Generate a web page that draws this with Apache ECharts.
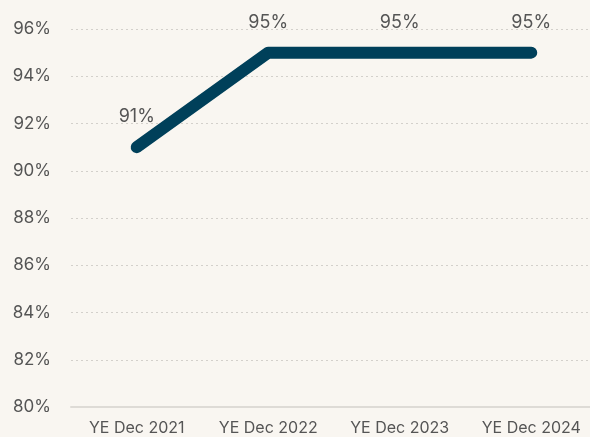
<!DOCTYPE html>
<html>
<head>
<meta charset="utf-8">
<script src="https://cdn.jsdelivr.net/npm/echarts@6/dist/echarts.min.js"></script>
<style>
  html, body { margin: 0; padding: 0; background: #f9f6f1; }
  #chart { width: 590px; height: 437px; }
</style>
</head>
<body>
<div id="chart"></div>
<script>
const categories = ['YE Dec 2021', 'YE Dec 2022', 'YE Dec 2023', 'YE Dec 2024']
const values = [91, 95, 95, 95]

const chart = echarts.init(document.getElementById('chart'))
chart.setOption({
  backgroundColor: '#f9f6f1',
  textStyle: { fontFamily: 'Inter, Roboto, sans-serif' },
  grid: { left: 71, width: 526, top: 29, bottom: 30, outerBoundsMode: 'none' },
  xAxis: {
    type: 'category',
    data: categories,
    boundaryGap: true,
    axisLine: { lineStyle: { color: '#dedbd6', width: 2 } },
    axisTick: { show: false },
    axisLabel: { color: '#555', fontSize: 16, margin: 13 }
  },
  yAxis: {
    type: 'value',
    min: 80,
    max: 96,
    interval: 2,
    axisLine: { show: false },
    axisTick: { show: false },
    axisLabel: { color: '#555', fontSize: 17, margin: 20, formatter: '{value}%' },
    splitLine: { lineStyle: { color: '#d3d0cb', type: [2, 3], width: 1 } }
  },
  series: [{
    type: 'line',
    data: values,
    symbol: 'circle',
    symbolSize: 1,
    itemStyle: { color: '#00405a' },
    lineStyle: { color: '#00405a', width: 12, cap: 'round', join: 'round' },
    label: {
      show: true,
      position: 'top',
      distance: 21,
      color: '#555',
      fontSize: 18,
      formatter: '{c}%'
    },
    animation: false
  }]
})
</script>
</body>
</html>
